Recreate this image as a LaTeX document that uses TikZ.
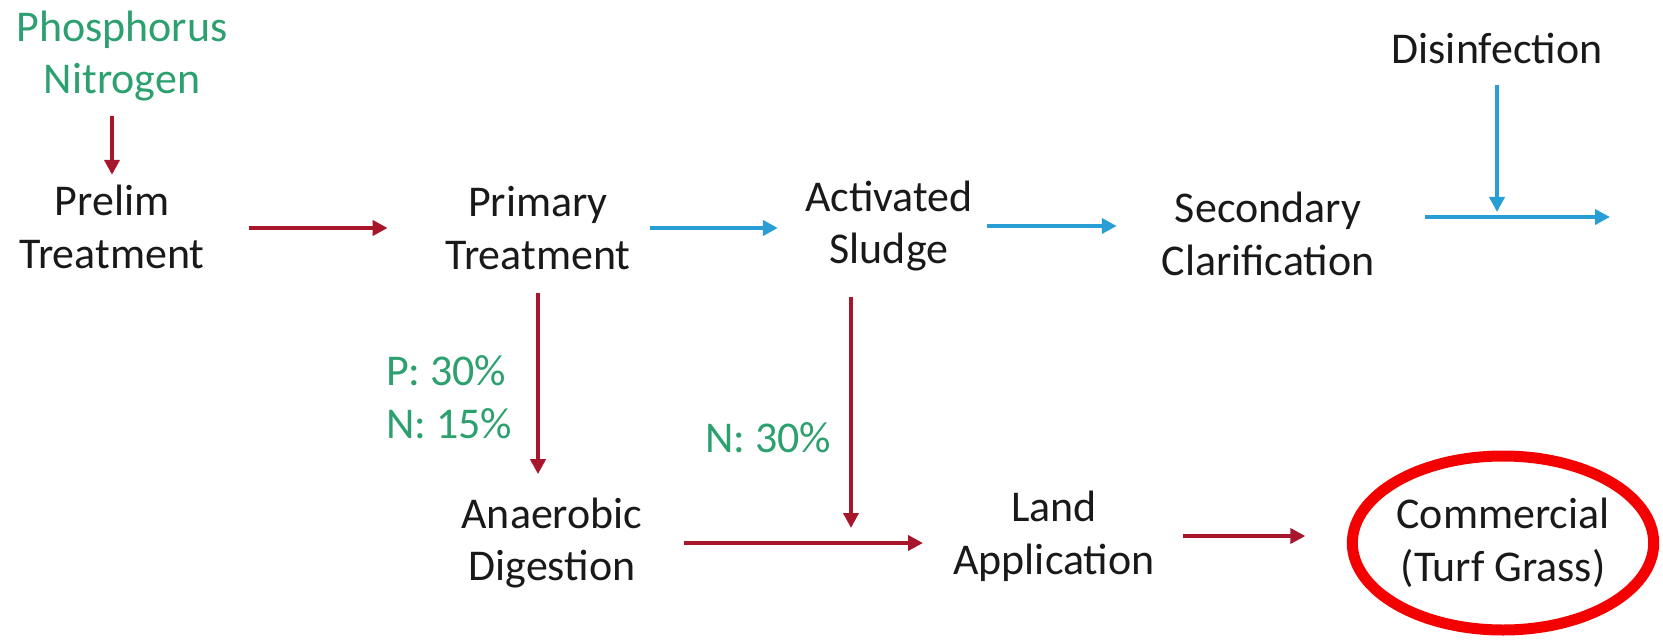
\documentclass[tikz,border=0pt]{standalone}
\usepackage{fontspec}
\setmainfont{Carlito}
\usetikzlibrary{arrows.meta,shapes.geometric,calc}
\definecolor{flowred}{RGB}{168,22,44}
\definecolor{flowblue}{RGB}{40,158,212}
\definecolor{nutrgreen}{RGB}{44,160,110}
\definecolor{ringred}{RGB}{245,0,0}

\begin{document}
\begin{tikzpicture}[
    stage/.style={align=center, inner sep=0pt, font=\fontsize{25}{30.1}\selectfont, text=black!90},
    nutrient/.style={stage, text=nutrgreen},
    share/.style={nutrient, align=left},
    target/.style={stage, ellipse, draw=ringred, line width=0.22cm, minimum width=5.96cm, minimum height=3.48cm},
    redflow/.style={draw=flowred, line width=0.09cm, -{Triangle[length=0.3cm,width=0.3cm]}},
    blueflow/.style={draw=flowblue, line width=0.09cm, -{Triangle[length=0.3cm,width=0.3cm]}}
]
\useasboundingbox (0,0) rectangle (33.26,12.78);

% Nutrients in
\node[nutrient] (nutr) at (2.44, 11.66) {Phosphorus\\Nitrogen};

% Liquid train
\node[stage] (prelim) at (2.24, 8.24) {Prelim\\Treatment};
\node[stage] (primary) at (10.76, 8.22) {Primary\\Treatment};
\node[stage] (sludge) at (17.78, 8.26) {Activated\\Sludge};
\node[stage] (clarif) at (25.36, 8.1) {Secondary\\Clarification};
\node[stage] (disinf) at (29.94, 11.82) {Disinfection};
\coordinate (outlet) at (32.2, 8.44);

% Solids train
\node[stage] (digest) at (11.04, 1.92) {Anaerobic\\Digestion};
\node[stage] (land) at (21.08, 2.06) {Land\\Application};
\node[target] (turf) at (30.06, 1.92) {Commercial\\(Turf Grass)};
\coordinate (merge) at (17.02, 1.92);

% Recovery shares
\node[share] (pn) at (8.98, 4.84) {P: 30\%\\N: 15\%};
\node[nutrient] (n30) at (15.36, 4.02) {N: 30\%};

% Liquid flow
\draw[redflow, shorten <=0.28cm, shorten >=0.2cm] (nutr.south -| prelim) -- (prelim.north);
\draw[redflow, shorten <=0.89cm, shorten >=1.15cm] (prelim.east |- primary.west) -- (primary.west);
\draw[blueflow, shorten <=0.39cm, shorten >=0.54cm] (primary.east) -- (primary.east -| sludge.west);
\draw[blueflow, shorten <=0.28cm, shorten >=0.89cm] (sludge.east) -- (sludge.east -| clarif.west);
\draw[blueflow, shorten <=1.01cm] (clarif.east |- outlet) -- (outlet);
\draw[blueflow, shorten <=0.42cm, shorten >=0.1cm] (disinf.south) -- (disinf.south |- outlet);

% Solids flow
\draw[redflow, shorten <=0.46cm, shorten >=0.46cm] (primary.south) -- (primary.south |- digest.north);
\draw[redflow, shorten <=0.5cm, shorten >=0.3cm] (merge |- sludge.south) -- (merge);
\draw[redflow, shorten <=0.82cm, shorten >=0.6cm] (digest.east) -- (digest.east -| land.west);
\draw[redflow, shorten <=0.56cm, shorten >=0.83cm] (land.east) -- (land.east -| turf.west);

\end{tikzpicture}
\end{document}
